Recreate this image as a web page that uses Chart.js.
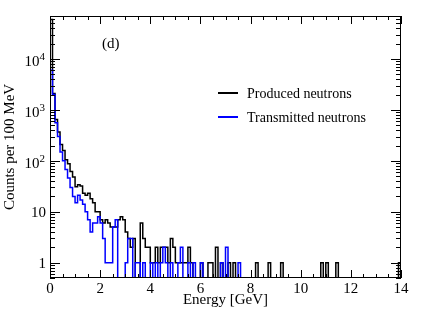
<!DOCTYPE html>
<html>
<head>
<meta charset="utf-8">
<script src="https://cdn.jsdelivr.net/npm/chart.js@4.4.1/dist/chart.umd.min.js"></script>
<style>
    html, body { margin: 0; padding: 0; background: #ffffff; }
    canvas { display: block; }
</style>
</head>
<body>
<canvas id="graphique-neutrons" width="424" height="318"></canvas>
<script>
// Histogramme : 140 intervalles de 100 MeV entre 0 et 14 GeV
const binWidth = 0.1;

// Nombre de neutrons produits par intervalle
const produced = [
    60000, 2100, 650, 370, 210, 160, 105, 88, 62, 48,
    31, 34, 32, 23, 21, 23, 18, 15, 10, 10,
    7, 6, 7, 6, 5, 5, 5, 7, 8, 7,
    4, 3, 2, 3, 0, 0, 6, 3, 2, 2,
    1, 1, 2, 1, 2, 2, 2, 1, 3, 2,
    1, 1, 1, 1, 1, 2, 1, 0, 0, 0,
    1, 0, 0, 1, 1, 0, 2, 0, 1, 0,
    0, 1, 0, 1, 0, 0, 0, 0, 0, 0,
    0, 0, 1, 0, 0, 0, 0, 1, 0, 0,
    0, 0, 1, 0, 0, 0, 0, 0, 0, 0,
    0, 0, 0, 0, 0, 0, 0, 0, 1, 0,
    1, 0, 0, 0, 1, 0, 0, 0, 0, 0,
    0, 0, 0, 0, 0, 0, 0, 0, 0, 0,
    0, 0, 0, 0, 0, 0, 0, 0, 0, 1
];

// Nombre de neutrons transmis par intervalle
const transmitted = [
    6000, 2000, 560, 300, 150, 100, 68, 46, 30, 20,
    15, 21, 17, 14, 10, 7, 4, 6, 6, 8,
    6, 3, 1, 1, 1, 5, 7, 0, 0, 0,
    1, 3, 3, 0, 1, 1, 0, 1, 0, 0,
    1, 0, 1, 0, 1, 2, 1, 0, 1, 0,
    0, 1, 2, 0, 0, 1, 0, 1, 0, 0,
    1, 0, 0, 0, 0, 0, 0, 0, 1, 0,
    2, 0, 0, 0, 0, 1, 0, 0, 0, 0,
    0, 0, 0, 0, 0, 0, 0, 0, 0, 0,
    0, 0, 0, 0, 0, 0, 0, 0, 0, 0,
    0, 0, 0, 0, 0, 0, 0, 0, 0, 0,
    0, 0, 0, 0, 0, 0, 0, 0, 0, 0,
    0, 0, 0, 0, 0, 0, 0, 0, 0, 0,
    0, 0, 0, 0, 0, 0, 0, 0, 0, 0
];

// Graduations
const xTickValues = [0, 2, 4, 6, 8, 10, 12, 14];
const xTickLabels = ["0", "2", "4", "6", "8", "10", "12", "14"];
const yTickValues = [1, 10, 100, 1000, 10000];
const yTickLabels = ["1", "10", "10^2", "10^3", "10^4"];
const seriesLabels = ["Produced neutrons", "Transmitted neutrons"];

const xMin = 0, xMax = 14;
const yMin = 0.5, yMax = 70000;
const police = '"Liberation Serif", "DejaVu Serif", serif';

// Transformation des comptages en contour d'histogramme (points aux bords des intervalles)
function contourHistogramme(comptages) {
    const bas = 1e-3; // un intervalle vide descend sous l'axe (coupé)
    const points = [{ x: 0, y: bas }];
    for (let i = 0; i < comptages.length; i++) {
        points.push({ x: i * binWidth, y: comptages[i] > 0 ? comptages[i] : bas });
    }
    const fin = comptages.length * binWidth;
    const dernier = comptages[comptages.length - 1];
    points.push({ x: fin, y: dernier > 0 ? dernier : bas });
    points.push({ x: fin, y: bas });
    return points;
}

// Cadre, graduations et textes à la manière de ROOT
const cadreRoot = {
    id: "cadreRoot",
    afterDatasetsDraw(chart) {
        const ctx = chart.ctx;
        const a = chart.chartArea;
        const x = chart.scales.x;
        const y = chart.scales.y;
        ctx.save();
        ctx.strokeStyle = "#000000";
        ctx.fillStyle = "#000000";
        ctx.lineWidth = 1;

        // cadre
        ctx.strokeRect(a.left + 0.5, a.top + 0.5, a.right - a.left - 1, a.bottom - a.top - 1);

        // graduations de l'axe x (haut et bas)
        ctx.beginPath();
        for (let v = xMin; v <= xMax + 1e-9; v += 0.5) {
            const px = Math.round(x.getPixelForValue(v)) + 0.5;
            const len = (Math.abs(v % 2) < 1e-9) ? 8 : 4;
            ctx.moveTo(px, a.bottom);
            ctx.lineTo(px, a.bottom - len);
            ctx.moveTo(px, a.top);
            ctx.lineTo(px, a.top + len);
        }
        // graduations logarithmiques de l'axe y (gauche et droite)
        for (let e = -1; e <= 4; e++) {
            for (let m = 1; m <= 9; m++) {
                const v = m * Math.pow(10, e);
                if (v < yMin || v > yMax) continue;
                const py = Math.round(y.getPixelForValue(v)) + 0.5;
                const len = m === 1 ? 10 : 5;
                ctx.moveTo(a.left, py);
                ctx.lineTo(a.left + len, py);
                ctx.moveTo(a.right, py);
                ctx.lineTo(a.right - len, py);
            }
        }
        ctx.stroke();

        // étiquettes de l'axe x
        ctx.font = "15px " + police;
        ctx.textAlign = "center";
        ctx.textBaseline = "alphabetic";
        for (let i = 0; i < xTickValues.length; i++) {
            ctx.fillText(xTickLabels[i], x.getPixelForValue(xTickValues[i]), a.bottom + 15);
        }

        // étiquettes de l'axe y (avec exposant)
        const droite = a.left - 4;
        for (let i = 0; i < yTickValues.length; i++) {
            const py = y.getPixelForValue(yTickValues[i]);
            const morceaux = yTickLabels[i].split("^");
            ctx.textBaseline = "alphabetic";
            if (morceaux.length === 1) {
                ctx.font = "15px " + police;
                ctx.textAlign = "right";
                ctx.fillText(morceaux[0], droite, py + 5);
            } else {
                ctx.font = "11px " + police;
                const largeurExp = ctx.measureText(morceaux[1]).width;
                ctx.textAlign = "left";
                ctx.fillText(morceaux[1], droite - largeurExp - 1, py + 1);
                ctx.font = "15px " + police;
                ctx.textAlign = "right";
                ctx.fillText(morceaux[0], droite - largeurExp - 1, py + 7);
            }
        }

        // titres des axes
        ctx.font = "15px " + police;
        ctx.textAlign = "center";
        ctx.fillText("Energy [GeV]", (a.left + a.right) / 2, 304);
        ctx.save();
        ctx.translate(14, (a.top + a.bottom) / 2);
        ctx.rotate(-Math.PI / 2);
        ctx.fillText("Counts per 100 MeV", 0, 0);
        ctx.restore();

        // repère du panneau
        ctx.textAlign = "left";
        ctx.fillText("(d)", 102, 48);

        // légende
        const lignesY = [93, 117];
        chart.data.datasets.forEach((ds, i) => {
            const ly = lignesY[ds.legendeRang];
            ctx.strokeStyle = ds.borderColor;
            ctx.lineWidth = 2;
            ctx.beginPath();
            ctx.moveTo(218, ly);
            ctx.lineTo(238, ly);
            ctx.stroke();
            ctx.font = "14px " + police;
            ctx.textBaseline = "middle";
            ctx.fillStyle = "#000000";
            ctx.fillText(ds.label, 247, ly + 1);
        });
        ctx.restore();
    }
};

const data = {
    datasets: [
        {
            label: seriesLabels[0],
            data: contourHistogramme(produced),
            borderColor: "#000000",
            legendeRang: 0,
            order: 2
        },
        {
            label: seriesLabels[1],
            data: contourHistogramme(transmitted),
            borderColor: "#0000ff",
            legendeRang: 1,
            order: 1
        }
    ]
};

const config = {
    type: "line",
    data: data,
    options: {
        responsive: false,
        animation: false,
        devicePixelRatio: 1,
        layout: { padding: { top: 16, right: 23, left: 0, bottom: 0 } },
        elements: {
            line: { borderWidth: 1.5, stepped: true, tension: 0, fill: false },
            point: { radius: 0, hoverRadius: 0 }
        },
        scales: {
            x: {
                type: "linear",
                min: xMin,
                max: xMax,
                grid: { display: false },
                border: { display: false },
                ticks: { display: false },
                afterFit: function (scale) { scale.height = 40; }
            },
            y: {
                type: "logarithmic",
                min: yMin,
                max: yMax,
                grid: { display: false },
                border: { display: false },
                ticks: { display: false },
                afterFit: function (scale) { scale.width = 50; }
            }
        },
        plugins: {
            legend: { display: false },
            tooltip: { enabled: false }
        }
    },
    plugins: [cadreRoot]
};

const graphiqueNeutrons = new Chart(document.getElementById("graphique-neutrons"), config);
</script>
</body>
</html>
